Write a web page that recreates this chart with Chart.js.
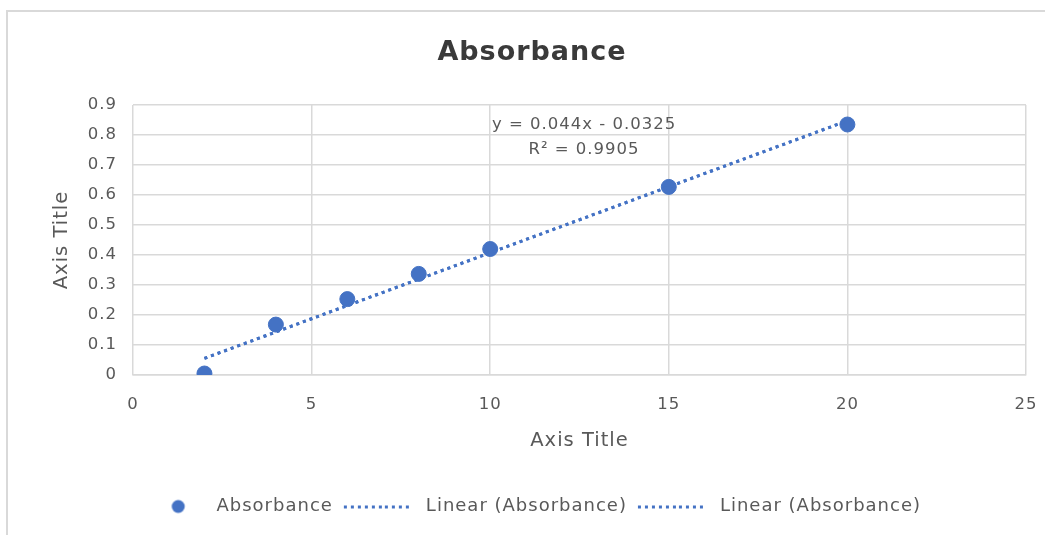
<!DOCTYPE html>
<html>
<head>
<meta charset="utf-8">
<script src="https://cdn.jsdelivr.net/npm/chart.js@4"></script>
<style>
  html, body { margin: 0; padding: 0; background: #ffffff; }
  #wrap { position: relative; width: 1045px; height: 535px; overflow: hidden; }
  #frame { position: absolute; left: 6px; top: 10px; width: 1100px; height: 600px;
           border-left: 2px solid #d9d9d9; border-top: 2px solid #d9d9d9; pointer-events: none; }
  canvas { position: absolute; left: 0; top: 0; }
</style>
</head>
<body>
<div id="wrap">
  <canvas id="chart" width="1045" height="535"></canvas>
  <div id="frame"></div>
</div>
<script>
// Concentration (x) and measured absorbance (y)
const concentrations = [2, 4, 6, 8, 10, 15, 20];
const absorbance = [0.005, 0.168, 0.253, 0.337, 0.42, 0.627, 0.835];

// Least-squares fit shown in the equation label
const fitSlope = 0.044;
const fitIntercept = -0.0325;
const fitRSquared = 0.9905;

// Axis tick values
const xTickValues = [0, 5, 10, 15, 20, 25];
const yTickValues = [0, 0.1, 0.2, 0.3, 0.4, 0.5, 0.6, 0.7, 0.8, 0.9];

const seriesName = 'Absorbance';
const trendName = 'Linear (Absorbance)';

const BLUE = '#4472c4';
const TEXT = '#595959';
const GRID = '#d9d9d9';
const FONT = "'DejaVu Sans', sans-serif";
const SPACING = '1px';

Chart.defaults.font.family = FONT;
Chart.defaults.color = TEXT;

const points = concentrations.map((x, i) => ({ x, y: absorbance[i] }));
const xMin = Math.min(...concentrations);
const xMax = Math.max(...concentrations);
const trendPoints = [
  { x: xMin, y: fitSlope * xMin + fitIntercept },
  { x: xMax, y: fitSlope * xMax + fitIntercept }
];

// Legend swatches: a filled dot and a short dotted line
const SWATCH_W = 78;
function swatchDot() {
  const c = document.createElement('canvas');
  c.width = SWATCH_W; c.height = 16;
  const g = c.getContext('2d');
  g.fillStyle = BLUE;
  g.beginPath(); g.arc(48.75, 8, 6.5, 0, Math.PI * 2); g.fill();
  return c;
}
function swatchDots() {
  const c = document.createElement('canvas');
  c.width = SWATCH_W; c.height = 16;
  const g = c.getContext('2d');
  g.fillStyle = BLUE;
  for (let k = 0; k < 10; k++) g.fillRect(Math.round(5 + k * 6.9), 7, 3, 3);
  return c;
}
const legendSwatches = [swatchDot(), swatchDots(), swatchDots()];

const fmtY = v => (v === 0 ? '0' : v.toFixed(1));

// Slightly open letter spacing for all chart text
const textSpacing = {
  id: 'textSpacing',
  beforeUpdate(chart) { chart.ctx.letterSpacing = SPACING; },
  beforeDraw(chart) { chart.ctx.letterSpacing = SPACING; },
  afterLayout(chart) {
    // nudge the title and legend row slightly left
    chart.titleBlock.left -= 6;
    chart.titleBlock.right -= 6;
    chart.legend.left -= 12.75;
    chart.legend.right -= 12.75;
  }
};

// Equation and R² text next to the trendline
const equationLabel = {
  id: 'equationLabel',
  afterDatasetsDraw(chart) {
    const { ctx, chartArea } = chart;
    const cx = chartArea.left + (chartArea.right - chartArea.left) * 0.5045;
    const sign = fitIntercept < 0 ? '-' : '+';
    const lines = [
      'y = ' + fitSlope + 'x ' + sign + ' ' + Math.abs(fitIntercept),
      'R\u00b2 = ' + fitRSquared
    ];
    ctx.save();
    ctx.font = '16.5px ' + FONT;
    ctx.letterSpacing = SPACING;
    ctx.fillStyle = TEXT;
    ctx.textAlign = 'center';
    ctx.textBaseline = 'middle';
    lines.forEach((t, i) => ctx.fillText(t, cx + 0.5, chartArea.top + 20 + i * 25));
    ctx.restore();
  }
};

new Chart(document.getElementById('chart'), {
  type: 'scatter',
  data: {
    datasets: [
      {
        label: seriesName,
        data: points,
        backgroundColor: BLUE,
        borderColor: BLUE,
        pointRadius: 7.5,
        pointHoverRadius: 7.5,
        order: 2
      },
      {
        label: trendName,
        data: trendPoints,
        type: 'line',
        showLine: true,
        borderColor: BLUE,
        borderWidth: 3,
        borderDash: [3, 4],
        pointRadius: 0,
        fill: false,
        order: 1
      },
      {
        label: trendName,
        data: trendPoints,
        type: 'line',
        showLine: true,
        borderColor: BLUE,
        borderWidth: 3,
        borderDash: [3, 4],
        pointRadius: 0,
        fill: false,
        order: 1
      }
    ]
  },
  options: {
    responsive: false,
    animation: false,
    layout: { padding: { left: 50, right: 19, top: 0, bottom: 9.5 } },
    plugins: {
      title: {
        display: true,
        text: 'Absorbance',
        color: '#3a3a3a',
        font: { size: 27, weight: 'bold', family: FONT },
        padding: { top: 36.7, bottom: 35.9 }
      },
      legend: {
        position: 'bottom',
        labels: {
          usePointStyle: true,
          pointStyleWidth: SWATCH_W,
          padding: 6,
          color: TEXT,
          font: { size: 18, family: FONT },
          generateLabels(chart) {
            return chart.data.datasets.map((ds, i) => ({
              text: ds.label,
              pointStyle: legendSwatches[i],
              fillStyle: BLUE,
              strokeStyle: BLUE,
              lineWidth: 0,
              fontColor: TEXT,
              datasetIndex: i,
              hidden: false
            }));
          }
        }
      },
      tooltip: { enabled: false }
    },
    scales: {
      x: {
        type: 'linear',
        min: xTickValues[0],
        max: xTickValues[xTickValues.length - 1],
        afterBuildTicks: s => { s.ticks = xTickValues.map(v => ({ value: v })); },
        afterFit: s => { s.height = 116.5; },
        grid: { color: GRID, lineWidth: 1.5, drawTicks: false },
        border: { display: true, color: GRID, width: 1.5 },
        ticks: { padding: 0, color: TEXT, font: { size: 16.5, lineHeight: '60px' } },
        title: { display: true, text: 'Axis Title', color: TEXT, font: { size: 19.5 }, padding: { top: 0, bottom: 39.3 } }
      },
      y: {
        type: 'linear',
        min: yTickValues[0],
        max: yTickValues[yTickValues.length - 1],
        afterBuildTicks: s => { s.ticks = yTickValues.map(v => ({ value: v })); },
        afterFit: s => { s.width = 83; },
        grid: { color: GRID, lineWidth: 1.5, drawTicks: false },
        border: { display: false },
        ticks: { padding: 16, color: TEXT, font: { size: 16.5 }, callback: v => fmtY(v) },
        title: { display: true, text: 'Axis Title', color: TEXT, font: { size: 19.5 }, padding: { top: 0.5, bottom: 0 } }
      }
    }
  },
  plugins: [textSpacing, equationLabel]
});
</script>
</body>
</html>
